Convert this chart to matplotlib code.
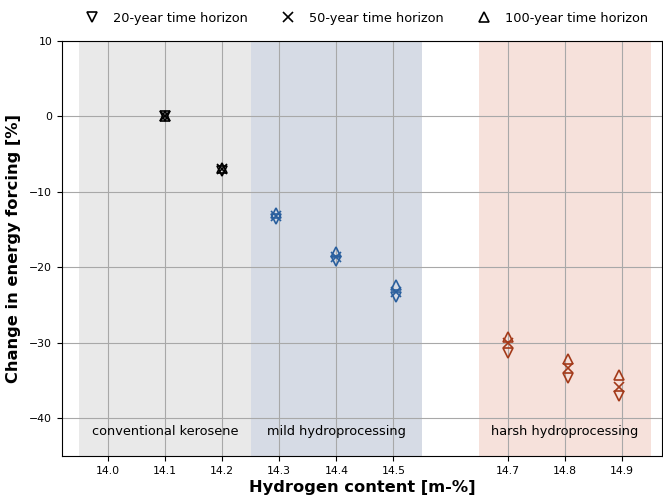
import matplotlib
matplotlib.use("Agg")
import matplotlib.pyplot as plt
from matplotlib.lines import Line2D

# Data
hydrogen = [14.1, 14.2, 14.295, 14.4, 14.505, 14.7, 14.805, 14.895]
group = ["conv", "conv", "mild", "mild", "mild", "harsh", "harsh", "harsh"]
ef_20 = [0.0, -7.2, -13.6, -19.1, -23.9, -31.3, -34.6, -37.1]
ef_50 = [0.0, -7.0, -13.2, -18.6, -23.2, -30.0, -33.4, -35.8]
ef_100 = [0.0, -6.8, -12.8, -18.0, -22.4, -29.2, -32.2, -34.3]

regions = ["conventional kerosene", "mild hydroprocessing", "harsh hydroprocessing"]
region_bounds = [(13.95, 14.25), (14.25, 14.55), (14.65, 14.95)]
region_colors = ["#e9e9e9", "#d6dbe5", "#f6e1db"]
marker_colors = {"conv": "black", "mild": "#2a5f9e", "harsh": "#a33a1a"}

xticks = [14.0, 14.1, 14.2, 14.3, 14.4, 14.5, 14.7, 14.8, 14.9]
yticks = [10, 0, -10, -20, -30, -40]

fig = plt.figure(figsize=(6.63, 4.97), dpi=100)
ax = fig.add_axes([0.0935, 0.0825, 0.905, 0.835])

for (x0, x1), c, name in zip(region_bounds, region_colors, regions):
    ax.axvspan(x0, x1, color=c, zorder=0, lw=0)
    ax.text((x0 + x1) / 2, -41.7, name, ha="center", va="center", fontsize=9.3, zorder=3)

ms = 7.8
for x, g, a, b, c in zip(hydrogen, group, ef_20, ef_50, ef_100):
    col = marker_colors[g]
    ax.plot(x, a, marker="v", ls="none", mfc="none", mec=col, ms=ms, mew=1.2, zorder=4)
    ax.plot(x, b, marker="x", ls="none", color=col, ms=ms, mew=1.2, zorder=4)
    ax.plot(x, c, marker="^", ls="none", mfc="none", mec=col, ms=ms, mew=1.2, zorder=4)

ax.set_xlim(13.92, 14.97)
ax.set_ylim(-45, 10)
ax.set_xticks(xticks)
ax.set_xticklabels([f"{t:.1f}" for t in xticks])
ax.set_yticks(yticks)
ax.grid(True, color="#a8a8a8", lw=0.8, zorder=1)
for gl in ax.get_xgridlines() + ax.get_ygridlines():
    gl.set_zorder(1)
ax.tick_params(labelsize=7.8)

ax.set_xlabel("Hydrogen content [m-%]", fontsize=11.7, fontweight="bold", labelpad=3)
ax.set_ylabel("Change in energy forcing [%]", fontsize=11.7, fontweight="bold", labelpad=6)

handles = [
    Line2D([], [], marker="v", ls="none", mfc="none", mec="black", ms=ms, mew=1.2),
    Line2D([], [], marker="x", ls="none", color="black", ms=ms, mew=1.2),
    Line2D([], [], marker="^", ls="none", mfc="none", mec="black", ms=ms, mew=1.2),
]
labels = ["20-year time horizon", "50-year time horizon", "100-year time horizon"]
fig.legend(handles, labels, loc="center", bbox_to_anchor=(0.548, 0.963), ncol=3,
           frameon=False, fontsize=9.3, columnspacing=2.1, handletextpad=0.63,
           borderpad=0, borderaxespad=0)

fig.savefig("out.png", dpi=100)
